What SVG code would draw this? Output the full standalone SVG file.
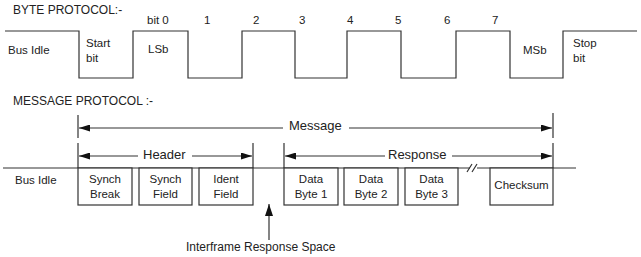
<svg xmlns="http://www.w3.org/2000/svg" width="641" height="257" viewBox="0 0 641 257">
<style>
text{font-family:"Liberation Sans",Arial,sans-serif;fill:#222}
.t11{font-size:11.5px}
.t12{font-size:12px}
.t13{font-size:13px}
.ln{fill:none;stroke:#333;stroke-width:1.2}
.box{fill:#fff;stroke:#333;stroke-width:1.2}
.mid{text-anchor:middle}
</style>
<defs>
<marker id="ah" viewBox="0 0 11 7" refX="11" refY="3.5" markerWidth="11" markerHeight="7" orient="auto" markerUnits="userSpaceOnUse"><path d="M0,0 L11,3.5 L0,7 z" fill="#111"/></marker>
<marker id="ah2" viewBox="0 0 12 8" refX="12" refY="4" markerWidth="12" markerHeight="8" orient="auto" markerUnits="userSpaceOnUse"><path d="M0,0 L12,4 L0,8 z" fill="#111"/></marker>
</defs>
<rect width="641" height="257" fill="#fff"/>

<!-- Byte protocol -->
<g id="byte-protocol">
<text class="t12" x="13" y="14">BYTE PROTOCOL:-</text>
<path class="ln" d="M5,31 H79 V78 H133 V31 H188 V78 H242 V31 H295 V78 H347 V31 H401 V78 H456 V31 H510 V78 H563 V31 H637"/>
<text class="t11" x="147" y="24">bit 0</text>
<text class="t11" x="204" y="24">1</text>
<text class="t11" x="253" y="24">2</text>
<text class="t11" x="299" y="24">3</text>
<text class="t11" x="347" y="24">4</text>
<text class="t11" x="395" y="24">5</text>
<text class="t11" x="444" y="24">6</text>
<text class="t11" x="492" y="24">7</text>
<text class="t11" x="8" y="54">Bus Idle</text>
<text class="t11" x="86" y="47">Start</text>
<text class="t11" x="86" y="62">bit</text>
<text class="t11" x="148" y="53">LSb</text>
<text class="t11" x="523" y="54">MSb</text>
<text class="t11" x="573" y="47">Stop</text>
<text class="t11" x="573" y="62">bit</text>
</g>

<!-- Message protocol -->
<text class="t12" x="13" y="105">MESSAGE PROTOCOL :-</text>

<g id="connectors">
<!-- bus line -->
<path class="ln" d="M3,168 H470 M477,168 H576"/>
<path class="ln" d="M467,172 L472,164 M472,172 L477,164"/>
<!-- ticks -->
<path class="ln" d="M78,115 V138 M78,143 V168 M553,113 V138 M553,143 V168 M253,143 V168 M284,143 V168"/>
<!-- Message arrow -->
<path class="ln" d="M283,128 H79" marker-end="url(#ah)"/>
<path class="ln" d="M349,128 H552" marker-end="url(#ah)"/>
<!-- Header arrow -->
<path class="ln" d="M138,156 H79" marker-end="url(#ah)"/>
<path class="ln" d="M192,156 H252" marker-end="url(#ah)"/>
<!-- Response arrow -->
<path class="ln" d="M385,156 H285" marker-end="url(#ah)"/>
<path class="ln" d="M452,156 H552" marker-end="url(#ah)"/>
<!-- Interframe arrow -->
<path class="ln" d="M269,240 V204" marker-end="url(#ah2)"/>
</g>

<text class="t13" x="289" y="130">Message</text>
<text class="t13" x="143" y="159">Header</text>
<text class="t13" x="388" y="159">Response</text>
<text class="t11" x="15" y="184">Bus Idle</text>

<g id="synch-break"><rect class="box" x="78" y="168" width="54" height="37"/><text class="t11 mid" x="105" y="183">Synch</text><text class="t11 mid" x="105" y="198">Break</text></g>
<g id="synch-field"><rect class="box" x="139" y="168" width="53" height="37"/><text class="t11 mid" x="165.5" y="183">Synch</text><text class="t11 mid" x="165.5" y="198">Field</text></g>
<g id="ident-field"><rect class="box" x="199" y="168" width="54" height="37"/><text class="t11 mid" x="226" y="183">Ident</text><text class="t11 mid" x="226" y="198">Field</text></g>
<g id="data-byte-1"><rect class="box" x="284" y="168" width="54" height="37"/><text class="t11 mid" x="311" y="183">Data</text><text class="t11 mid" x="311" y="198">Byte 1</text></g>
<g id="data-byte-2"><rect class="box" x="344" y="168" width="54" height="37"/><text class="t11 mid" x="371" y="183">Data</text><text class="t11 mid" x="371" y="198">Byte 2</text></g>
<g id="data-byte-3"><rect class="box" x="405" y="168" width="53" height="37"/><text class="t11 mid" x="431.5" y="183">Data</text><text class="t11 mid" x="431.5" y="198">Byte 3</text></g>
<g id="checksum"><rect class="box" x="490" y="168" width="63" height="37"/><text class="t11 mid" x="521.5" y="189">Checksum</text></g>

<text class="t12" x="186" y="251">Interframe Response Space</text>
</svg>
